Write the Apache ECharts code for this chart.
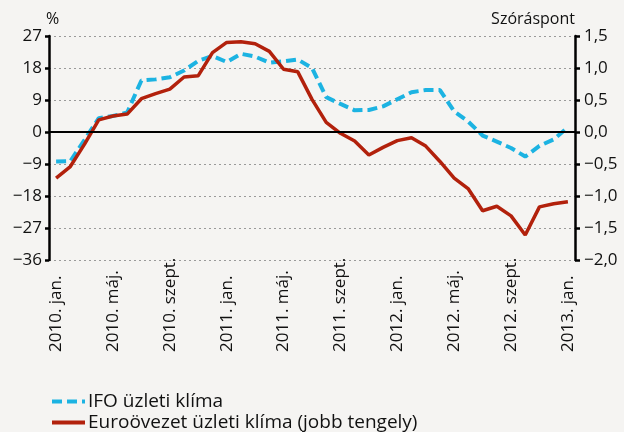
<!DOCTYPE html>
<html><head><meta charset="utf-8">
<script src="https://cdn.jsdelivr.net/npm/echarts@6/dist/echarts.min.js"></script>
<style>html,body{margin:0;padding:0;background:#f5f4f2;}#c{width:624px;height:432px;}</style>
</head><body><div id="c"></div>
<script>
const years = [2010, 2011, 2012, 2013];
const monthNames = ['jan.','febr.','márc.','ápr.','máj.','jún.','júl.','aug.','szept.','okt.','nov.','dec.'];
const categories = [];
for (const y of years) for (const m of monthNames) { if (categories.length < 37) categories.push(y + '. ' + m); }

const ifoName = 'IFO üzleti klíma';
const euroName = 'Euroövezet üzleti klíma (jobb tengely)';
const ifoValues = [-8.3, -8.2, -2.2, 3.9, 4.5, 5.5, 14.5, 14.8, 15.4, 17.3, 20.0, 21.4, 19.7, 22.0, 21.2, 19.5, 19.9, 20.4, 18.0, 9.8, 7.9, 6.1, 6.2, 7.2, 9.2, 11.2, 11.8, 11.8, 5.8, 2.9, -1.0, -2.7, -4.5, -6.9, -3.9, -2.1, 1.3];
const euroValues = [-0.72, -0.54, -0.19, 0.19, 0.25, 0.28, 0.52, 0.60, 0.67, 0.86, 0.88, 1.24, 1.40, 1.41, 1.38, 1.26, 0.98, 0.94, 0.51, 0.15, -0.02, -0.14, -0.36, -0.24, -0.135, -0.09, -0.22, -0.46, -0.72, -0.89, -1.23, -1.16, -1.31, -1.61, -1.17, -1.12, -1.09];
const leftAxisName = '%';
const rightAxisName = 'Szóráspont';

const FONT = 'Open Sans';
const chart = echarts.init(document.getElementById('c'));
const minus = s => String(s).replace('-', '−');
chart.setOption({
  backgroundColor: '#f5f4f2',
  animation: false,
  textStyle: { fontFamily: FONT },
  grid: { left: 49, right: 49, top: 36, height: 224 },
  legend: {
    orient: 'vertical', left: 50, top: 392, height: 60, padding: 0, itemGap: 2, itemWidth: 33, itemHeight: 14,
    itemStyle: { opacity: 0 },
    lineStyle: { width: 4 },
    textStyle: { fontFamily: FONT, fontSize: 19, color: '#111', padding: [0, 0, 0, -2] },
    data: [ifoName, euroName]
  },
  xAxis: {
    type: 'category', data: categories, boundaryGap: true,
    axisLine: { show: false }, axisTick: { show: false }, splitLine: { show: false },
    axisLabel: {
      interval: 3, rotate: 90, align: 'left', verticalAlign: 'middle', margin: 92,
      fontFamily: FONT, fontSize: 17, color: '#111'
    }
  },
  yAxis: [
    {
      type: 'value', min: -36, max: 27, interval: 9, position: 'left',
      name: leftAxisName, nameLocation: 'end', nameGap: 9,
      nameTextStyle: { fontFamily: FONT, fontSize: 16, color: '#111', align: 'left', padding: [0,0,0,-3] },
      axisLine: { show: true, lineStyle: { color: '#000', width: 2.5 } },
      axisTick: { show: true, inside: false, length: 4, lineStyle: { color: '#000', width: 2.5 } },
      axisLabel: { margin: 7, fontFamily: FONT, fontSize: 17, color: '#111', formatter: v => minus(v) },
      splitLine: { show: true, lineStyle: { color: '#9a9a9a', width: 1, type: [2, 3] } }
    },
    {
      type: 'value', min: -2, max: 1.5, interval: 0.5, position: 'right',
      name: rightAxisName, nameLocation: 'end', nameGap: 9,
      nameTextStyle: { fontFamily: FONT, fontSize: 16, color: '#111', align: 'right' },
      axisLine: { show: true, lineStyle: { color: '#000', width: 2.5 } },
      axisTick: { show: true, inside: false, length: 5, lineStyle: { color: '#000', width: 2.5 } },
      axisLabel: { margin: 9, fontFamily: FONT, fontSize: 17, color: '#111', formatter: v => minus(v.toFixed(1).replace('.', ',')) },
      splitLine: { show: false }
    }
  ],
  series: [
    {
      name: ifoName, type: 'line', yAxisIndex: 0, data: ifoValues, symbol: 'none', z: 3,
      itemStyle: { color: '#1cb3e2' },
      lineStyle: { color: '#1cb3e2', width: 4, type: [10, 5] },
      markLine: {
        silent: true, symbol: 'none', label: { show: false },
        lineStyle: { color: '#000', width: 2, type: 'solid' },
        data: [{ yAxis: 0 }]
      }
    },
    {
      name: euroName, type: 'line', yAxisIndex: 1, data: euroValues, symbol: 'none', z: 4,
      itemStyle: { color: '#b2210c' },
      lineStyle: { color: '#b2210c', width: 3.5 }
    }
  ]
});
</script></body></html>
